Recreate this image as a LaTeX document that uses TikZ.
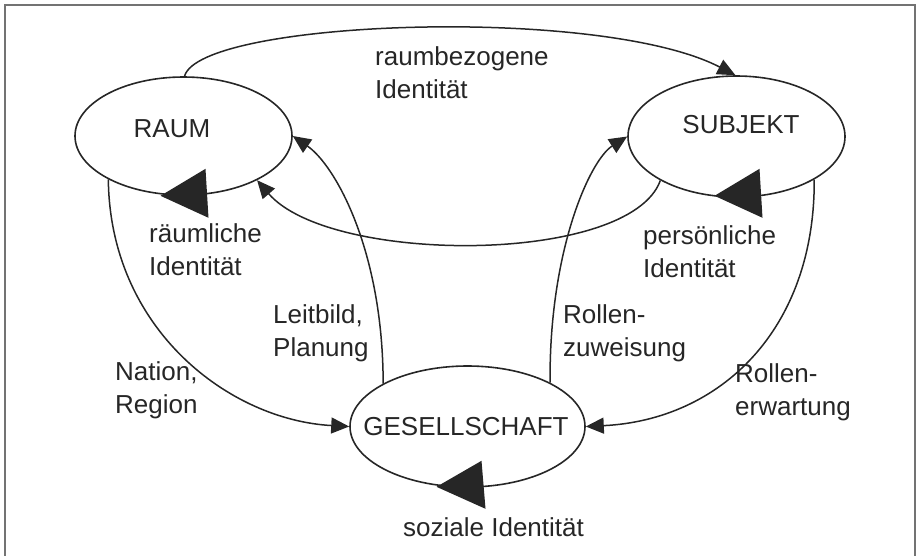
\documentclass[tikz,border=0pt]{standalone}
\usepackage{fontspec}
\setmainfont{Liberation Sans}
\usetikzlibrary{arrows.meta,calc,shapes.geometric}
\begin{document}
\begin{tikzpicture}[x=1pt,y=-1pt,
  ell/.style={draw=black!85, line width=1.6pt, ellipse, inner sep=0pt},
  conn/.style={draw=black!85, line width=1.5pt, -{Triangle[length=18pt,width=16pt]}},
  lbl/.style={font=\fontsize{26}{33}\selectfont, inner sep=0pt, align=left, anchor=north west, text=black!85},
  ttl/.style={font=\fontsize{26}{33}\selectfont, inner sep=0pt, text=black!85},
  bigtip/.style={fill=black!85},
  frame/.style={draw=black!55, line width=2pt}]
\useasboundingbox (0,0) rectangle (918,555);
\draw[frame] (5,560) -- (5,5) -- (915,5) -- (915,560);
% ellipses
\node[ell, minimum width=217pt, minimum height=118pt] (raum) at (183.5,136) {};
\node[ell, minimum width=217pt, minimum height=121pt] (subj) at (736.5,136.5) {};
\node[ell, minimum width=235pt, minimum height=121pt] (ges) at (467.5,426.5) {};
\node[ttl] (traum) at (172,129) {RAUM};
\node[ttl] (tsubj) at (741,125) {SUBJEKT};
\node[ttl] (tges) at (466,427) {GESELLSCHAFT};
% connectors
\draw[conn] (raum.89) .. controls (200,20) and (600,5) .. (subj.91);
\draw[conn] (subj.-150) .. controls (630,265) and (330,265) .. (raum.-31);
\draw[conn] (ges.153) .. controls (383,250) and (335,165) .. (raum.0);
\draw[conn] (ges.28) .. controls (549,250) and (590,160) .. (subj.180);
\draw[conn] (raum.-150) .. controls (110,330) and (230,420) .. (ges.180);
\draw[conn] (subj.-29) .. controls (815,330) and (720,420) .. (ges.0);
% self-loop arrowheads
\fill[bigtip] ($(raum.south)+(-23,0)$) -- ++(45,-27) -- ++(3,49) -- cycle;
\fill[bigtip] ($(subj.south)+(-22,-2)$) -- ++(45,-27) -- ++(3,49) -- cycle;
\fill[bigtip] ($(ges.south)+(-31,-1)$) -- ++(45,-26) -- ++(4,48) -- cycle;
% labels
\node[lbl] (l1) at (375,46) {raumbezogene\\Identität};
\node[lbl] (l2) at (149,223) {räumliche\\Identität};
\node[lbl] (l3) at (643,225) {persönliche\\Identität};
\node[lbl] (l4) at (273,304) {Leitbild,\\Planung};
\node[lbl] (l5) at (563,304) {Rollen-\\zuweisung};
\node[lbl] (l6) at (115,361) {Nation,\\Region};
\node[lbl] (l7) at (735,363) {Rollen-\\erwartung};
\node[lbl] (l8) at (403,517) {soziale Identität};
\end{tikzpicture}
\end{document}
